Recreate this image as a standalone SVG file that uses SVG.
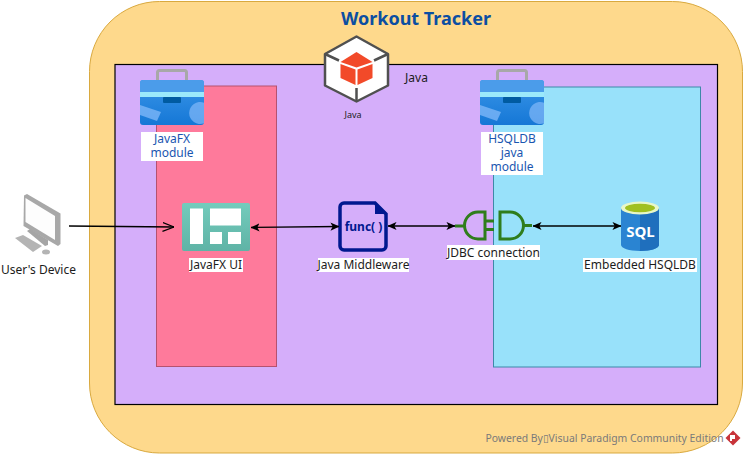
<svg xmlns="http://www.w3.org/2000/svg" width="745" height="455" viewBox="0 0 745 455">
<style>
text{font-family:"Noto Sans","DejaVu Sans",sans-serif;font-size:12px;fill:#1c1c1c;text-anchor:middle}
.mod{fill:#1a56b0}
.conn{fill:none;stroke:#000;stroke-width:1.3}
.lbl{fill:#fff}
.grn{fill:none;stroke:#2f7d1c;stroke-width:3}
.edge{fill:none;stroke:#505050;stroke-width:2.5;stroke-linejoin:round}
.cube{fill:#f24a29}
</style>
<defs>
<linearGradient id="teal" x1="0" y1="0" x2="0" y2="1"><stop offset="0" stop-color="#73cbbc"/><stop offset="1" stop-color="#5fb3a6"/></linearGradient>
<linearGradient id="box" x1="0" y1="0" x2="0" y2="1"><stop offset="0" stop-color="#3a96e8"/><stop offset="1" stop-color="#1577d6"/></linearGradient>
<marker id="fill" viewBox="0 0 10 10" refX="9.500" refY="5" markerWidth="9" markerHeight="9" markerUnits="userSpaceOnUse" orient="auto-start-reverse"><path d="M0 0.500L10 5L0 9.500L2.500 5Z" fill="#000"/></marker>
<marker id="open" viewBox="0 0 12 10" refX="11.500" refY="5" markerWidth="12" markerHeight="10" markerUnits="userSpaceOnUse" orient="auto"><path d="M0 0.500L11.500 5L0 9.500" fill="none" stroke="#000" stroke-width="1.200"/></marker>
<g id="toolbox">
<rect x="17.500" y="1.500" width="29" height="13" rx="2" fill="none" stroke="#a8a8a8" stroke-width="3"/>
<rect x="0" y="11" width="64" height="45" rx="3" fill="url(#box)"/>
<path d="M0 14a3 3 0 0 1 3-3H61a3 3 0 0 1 3 3V23H0Z" fill="#4b9cea"/>
<rect x="0" y="23" width="64" height="5" fill="#9be9fb"/>
<rect x="23" y="28" width="18" height="6" rx="1" fill="#005ba1"/>
<path d="M0 36L21 43L17 52L0 46Z" fill="#83b9f9" opacity=".75"/>
<path d="M64 33.700A11 11 0 1 0 64 54.300Z" fill="#83b9f9" opacity=".7"/>
</g>
</defs>

<g id="workout-tracker">
<rect x="89.500" y="1.500" width="653" height="451.500" rx="70" ry="70" fill="#fed98c" stroke="#d9a93f"/>
<text x="416" y="25" style="font-size:18px;font-weight:700;fill:#0b4ea2">Workout Tracker</text>
</g>

<g id="java-container">
<rect x="115" y="64.500" width="602.500" height="340" fill="#d5aefa" stroke="#000" stroke-width="1.200"/>
<text x="416.500" y="82">Java</text>
</g>

<g id="javafx-module">
<rect x="156.500" y="86" width="120" height="280.500" fill="#fe7a9b" stroke="#b5526f"/>
<use href="#toolbox" x="140" y="69"/>
<rect x="141" y="132" width="62" height="29" class="lbl"/>
<text class="mod"><tspan x="172" y="143">JavaFX</tspan><tspan x="172" dy="14">module</tspan></text>
</g>

<g id="hsqldb-module">
<rect x="493.500" y="87" width="207" height="280" fill="#98e1fa" stroke="#3d89a8"/>
<use href="#toolbox" x="480" y="69"/>
<rect x="481" y="132" width="62" height="43" class="lbl"/>
<text class="mod"><tspan x="512" y="143">HSQLDB</tspan><tspan x="512" dy="14">java</tspan><tspan x="512" dy="14">module</tspan></text>
</g>

<g id="java-icon">
<path class="edge" d="M356.500 36.500L388 54V85.500L356.500 101.500L325 85.500V54Z" fill="#fff" style="fill:#fff"/>
<path class="edge" d="M325 54L339 60.500M388 54L374 60.500M356.500 101.500V88"/>
<path class="cube" d="M356.500 52L372.500 62L356.500 67.500L340.500 62Z"/>
<path class="cube" d="M340.500 64L355.500 69.500V85L340.500 78Z"/>
<path class="cube" d="M372.500 64L357.500 69.500V85L372.500 78Z"/>
<text x="353" y="118" style="font-size:9px">Java</text>
</g>

<g id="users-device">
<path d="M24 195.500L27 194L60.500 213.500V244L58 246L23.500 226Z" fill="#a8a8a8"/>
<path d="M25.500 198L55 216V240L25.500 222Z" fill="#fdfdfd"/>
<path d="M27 231L30 229L48 240V245L45 246Z" fill="#a5a5a5"/>
<path d="M15 238L23 235L42 246L33 252Z" fill="#b4b4b4"/>
<ellipse cx="46" cy="252" rx="4" ry="2.500" fill="#b4b4b4"/>
<text x="38.500" y="274">User's Device</text>
</g>

<g id="javafx-ui">
<rect x="182" y="203" width="68" height="48" rx="2" fill="url(#teal)"/>
<rect x="190" y="208.500" width="13" height="35.500" fill="#fff"/>
<rect x="210" y="208.500" width="31" height="17" fill="#fff"/>
<rect x="210" y="232" width="12" height="12" fill="#fff"/>
<rect x="228" y="232" width="13" height="12" fill="#fff"/>
<rect x="189" y="258" width="54" height="14" class="lbl"/>
<text x="216" y="269">JavaFX UI</text>
</g>

<g id="java-middleware">
<path d="M344 203H375L386 214V246a4 4 0 0 1-4 4H344a4 4 0 0 1-4-4V207a4 4 0 0 1 4-4Z" fill="none" stroke="#00188f" stroke-width="3.500"/>
<path d="M375 203V214H386Z" fill="#00188f"/>
<text x="363.500" y="231" style="font-size:12px;font-weight:700;fill:#00188f">func( )</text>
<rect x="318" y="258" width="91" height="14" class="lbl"/>
<text x="363.500" y="269">Java Middleware</text>
</g>

<g id="jdbc-connection">
<path class="grn" d="M455 226H464M485 212H478a13.500 13.500 0 0 0 0 27H485ZM485 221H494M485 229.500H494M500 212H510a13.500 13.500 0 0 1 0 27H500ZM523 225.500H532"/>
<rect x="447" y="245" width="93" height="15" class="lbl"/>
<text x="493.500" y="257">JDBC connection</text>
</g>

<g id="embedded-hsqldb">
<path d="M621 208V245c0 3 8 6 19 6s19-3 19-6V208Z" fill="#2a84d2"/>
<path d="M640 208V251c11 0 19-3 19-6V208Z" fill="#1f6fbd"/>
<ellipse cx="640" cy="208" rx="19" ry="6.500" fill="#e8f7c8"/>
<ellipse cx="640" cy="208" rx="15" ry="4.200" fill="#a0c020"/>
<text x="640.500" y="237" style="font-size:15px;font-weight:700;fill:#fff">SQL</text>
<rect x="583" y="258" width="114" height="14" class="lbl"/>
<text x="640" y="269">Embedded HSQLDB</text>
</g>

<g id="connectors">
<path class="conn" d="M69 226L174 227" marker-end="url(#open)"/>
<path class="conn" d="M251 227.500L339 226.500" marker-start="url(#fill)" marker-end="url(#fill)"/>
<path class="conn" d="M388 226H455" marker-start="url(#fill)" marker-end="url(#fill)"/>
<path class="conn" d="M533 226H621" marker-start="url(#fill)" marker-end="url(#fill)"/>
</g>

<g id="watermark">
<text x="604.500" y="442" style="font-size:10.400px;fill:#7a7a7a">Powered By▯Visual Paradigm Community Edition</text>
<path d="M733 430.500L740.500 438L733 445.500L725.500 438Z" fill="#c8343a"/>
<path d="M730 435H735V439H732V441H730Z" fill="#fff"/>
</g>
</svg>
